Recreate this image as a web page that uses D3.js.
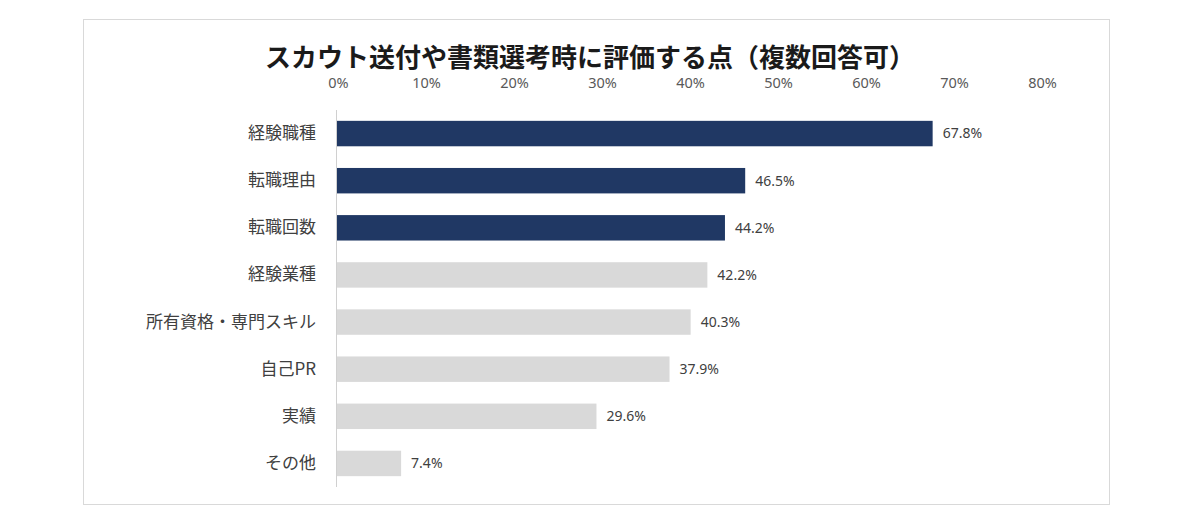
<!DOCTYPE html>
<html>
<head>
<meta charset="utf-8">
<script src="https://cdn.jsdelivr.net/npm/d3@7"></script>
<style>
  html, body { margin: 0; padding: 0; background: #fff; }
  svg { display: block; font-family: "Noto Sans CJK JP", "Noto Sans", sans-serif; }
</style>
</head>
<body>
<svg id="chart" width="1200" height="526"></svg>
<script>
const title = "スカウト送付や書類選考時に評価する点（複数回答可）";
const categories = ["経験職種", "転職理由", "転職回数", "経験業種", "所有資格・専門スキル", "自己PR", "実績", "その他"];
const values = [67.8, 46.5, 44.2, 42.2, 40.3, 37.9, 29.6, 7.4];
const tickValues = [0, 10, 20, 30, 40, 50, 60, 70, 80];
const tickLabels = ["0%", "10%", "20%", "30%", "40%", "50%", "60%", "70%", "80%"];

const svg = d3.select("#chart");

// frame
svg.append("rect")
  .attr("x", 83.5).attr("y", 19.5)
  .attr("width", 1026).attr("height", 485)
  .attr("fill", "#fff").attr("stroke", "#d9d9d9").attr("stroke-width", 1);

// title
svg.append("text")
  .attr("x", 590).attr("y", 67)
  .attr("text-anchor", "middle")
  .attr("font-size", 26).attr("font-weight", 700)
  .attr("fill", "#1a1a1a")
  .text(title);

const x = d3.scaleLinear().domain([0, 80]).range([336, 1040]);
const y = d3.scaleBand().domain(categories).range([110, 487]).paddingInner(0.46).paddingOuter(0.23);

// top axis labels
const xAxis = d3.axisTop(x)
  .tickValues(tickValues)
  .tickFormat((d, i) => tickLabels[i])
  .tickSize(0).tickPadding(0);
const gx = svg.append("g").attr("transform", "translate(2,88)").call(xAxis);
gx.select(".domain").remove();
gx.selectAll("text")
  .attr("font-size", 14.5).attr("fill", "#595959")
  .attr("font-family", "'Noto Sans', 'Open Sans', sans-serif");

// bars
svg.append("g").selectAll("rect")
  .data(values)
  .join("rect")
  .attr("x", x(0))
  .attr("y", (d, i) => y(categories[i]))
  .attr("width", d => x(d) - x(0))
  .attr("height", y.bandwidth())
  .attr("fill", (d, i) => i < 3 ? "#203864" : "#d9d9d9");

// vertical axis line + category labels
const yAxis = d3.axisLeft(y).tickSize(0).tickPadding(20);
const gy = svg.append("g").attr("transform", `translate(${x(0)},0)`).call(yAxis);
gy.select(".domain").attr("stroke", "#d0d0d0").attr("d", `M0.5,${y.range()[0]}V${y.range()[1]}`);
gy.selectAll("text")
  .attr("font-size", 17).attr("fill", "#404040")
  .attr("font-family", "'Noto Sans CJK JP', sans-serif");

// value labels
svg.append("g").selectAll("text")
  .data(values)
  .join("text")
  .attr("x", d => x(d) + 10)
  .attr("y", (d, i) => y(categories[i]) + y.bandwidth() / 2)
  .attr("dy", "0.35em")
  .attr("font-size", 14).attr("fill", "#404040")
  .attr("font-family", "'Noto Sans', 'Open Sans', sans-serif")
  .text(d => d.toFixed(1) + "%");
</script>
</body>
</html>
